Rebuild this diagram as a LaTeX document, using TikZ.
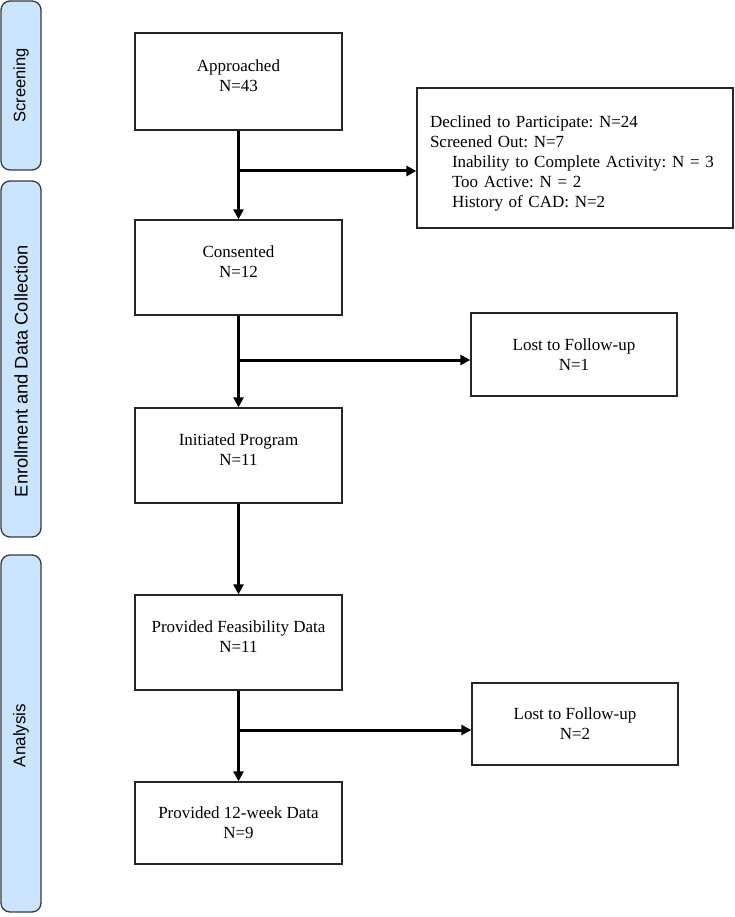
\documentclass[tikz,border=0pt]{standalone}
\usepackage{fontspec}
\setmainfont{Liberation Serif}
\newfontfamily\barfont{Liberation Sans}
\usetikzlibrary{arrows.meta}
\definecolor{barfill}{HTML}{CCE5FF}
\definecolor{barline}{HTML}{36393D}
\frenchspacing
\tikzset{
  box/.style={draw=black!85, line width=1.3pt, rectangle, align=center,
    font=\fontsize{17}{20}\selectfont, inner sep=0pt},
  upper/.style={text depth=12pt},
  bar/.style={draw=barline, fill=barfill, line width=1.3pt, rounded corners=9pt,
    rectangle, inner sep=0pt},
  bartext/.style={rotate=90, font=\barfont\fontsize{16.5}{19}\selectfont},
  arr/.style={line width=3pt, -{Triangle[length=10pt,width=10pt]}},
  link/.style={line width=3pt}
}
\begin{document}
\begin{tikzpicture}[x=1pt,y=1pt]
\useasboundingbox (0,0) rectangle (735,-917);
% side bars
\node[bar, minimum width=40, minimum height=169] (scr) at (21,-85.5) {};
\node[bartext] (scrt) at (scr.center) {Screening};
\node[bar, minimum width=40, minimum height=356] (enr) at (21,-359) {};
\node[bartext, font=\barfont\fontsize{18.3}{21}\selectfont] (enrt) at ([yshift=-12pt]enr.center) {Enrollment and Data Collection};
\node[bar, minimum width=40, minimum height=357] (ana) at (21,-733.5) {};
\node[bartext, font=\barfont\fontsize{17}{20}\selectfont] (anat) at ([yshift=-2pt]ana.center) {Analysis};
% main column
\node[box, upper, minimum width=207, minimum height=97] (appr) at (238.5,-81.5) {Approached\\N=43};
\node[box, upper, minimum width=207, minimum height=95] (cons) at (238.5,-267.5) {Consented\\N=12};
\node[box, upper, minimum width=207, minimum height=95] (init) at (238.5,-455.5) {Initiated Program\\N=11};
\node[box, upper, minimum width=207, minimum height=95] (feas) at (238.5,-642.5) {Provided Feasibility Data\\N=11};
\node[box, minimum width=207, minimum height=82] (week) at (238.5,-823) {Provided 12-week Data\\N=9};
% side boxes
\node[box, align=left, text width=290pt, inner xsep=13pt, text height=22pt, minimum height=140] (decl) at (575,-158)
  {Declined to Participate: N=24\\Screened Out: N=7\\\hspace*{22pt}Inability to Complete Activity: N = 3\\\hspace*{22pt}Too Active: N = 2\\\hspace*{22pt}History of CAD: N=2};
\node[box, minimum width=206, minimum height=83] (lost1) at (574,-354.5) {Lost to Follow-up\\N=1};
\node[box, minimum width=206, minimum height=82] (lost2) at (575,-724) {Lost to Follow-up\\N=2};
% connectors
\coordinate (b1) at (239,-171);
\coordinate (b2) at (239,-360);
\coordinate (b3) at (239,-730);
\draw[arr] (appr.south) -- (cons.north);
\draw[arr] (b1) -- (decl.west |- b1);
\draw[arr] (cons.south) -- (init.north);
\draw[arr] (b2) -- (lost1.west |- b2);
\draw[arr] (init.south) -- (feas.north);
\draw[arr] (feas.south) -- (week.north);
\draw[arr] (b3) -- (lost2.west |- b3);
\end{tikzpicture}
\end{document}
